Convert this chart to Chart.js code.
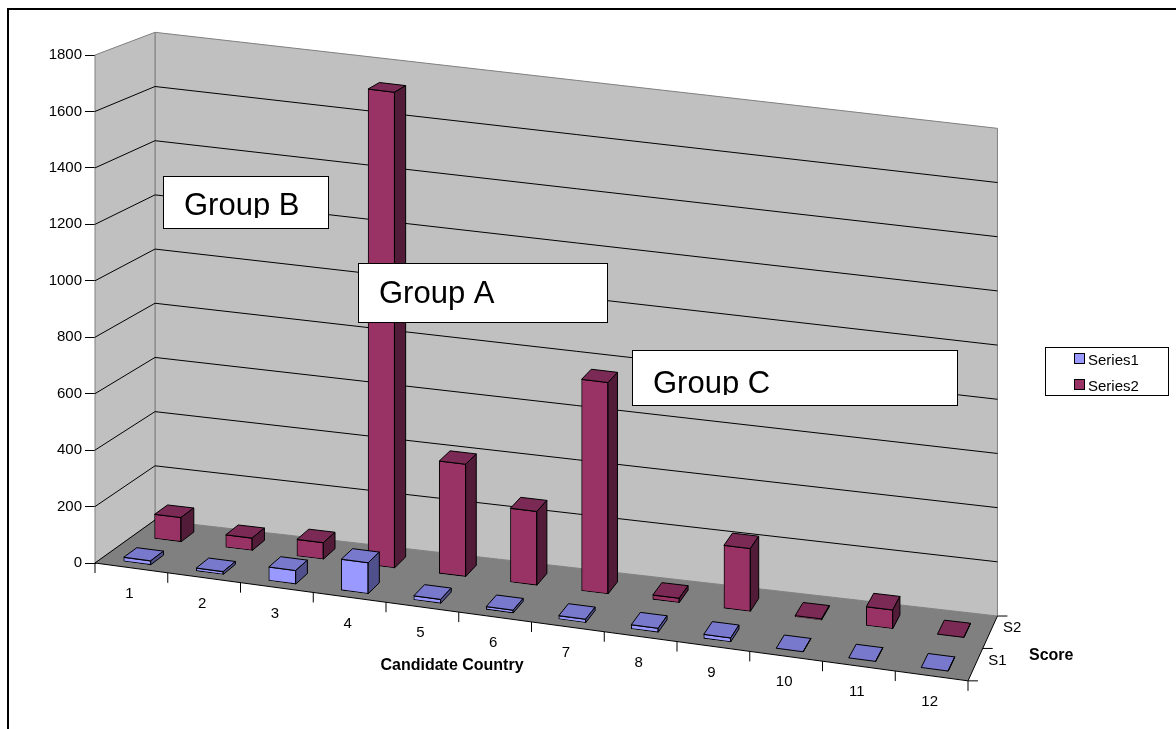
<!DOCTYPE html>
<html>
<head>
<meta charset="utf-8">
<script src="https://cdn.jsdelivr.net/npm/chart.js@4/dist/chart.umd.min.js"></script>
<style>
  html, body { margin: 0; padding: 0; background: #fff; }
  canvas { display: block; }
</style>
</head>
<body>
<canvas id="chart" width="1176" height="729"></canvas>
<script>
// data
const categories = ['1', '2', '3', '4', '5', '6', '7', '8', '9', '10', '11', '12'];
const series1 = [16, 12, 50, 112, 16, 12, 14, 16, 16, 1, 1, 1];
const series2 = [90, 47, 62, 1730, 410, 270, 770, 18, 230, 6, 70, 2];
const seriesNames = ['Series1', 'Series2'];
const depthLabels = ['S1', 'S2'];
const yMax = 1800;
const yStep = 200;
const xTitle = 'Candidate Country';
const depthTitle = 'Score';
const notes = ['Group B', 'Group A', 'Group C'];

const FONT = '"Liberation Sans", Arial, sans-serif';

// fake 3d: each depth level d (0 = front, 1 = back wall) gets its own affine map
const DX = 60, DY = -43, K0 = 0.135, K1 = 0.11, SHRINK_Y = 0.04, SHRINK_X = 0.035;
const rows = [{ d0: 0.1, t: 0.22 }, { d0: 0.62, t: 0.22 }];
const faceColors = [
  { front: '#9999ff', top: '#7878cc', side: '#50508c' },
  { front: '#993366', top: '#7a2a54', side: '#521b38' }
];

function rowMatrix(area, d) {
  const L = area.left, B = area.bottom;
  const k = K0 + (K1 - K0) * d, s = 1 - SHRINK_Y * d, h = 1 - SHRINK_X * d;
  return [h, k, 0, s, L + d * DX - L * h, B + d * DY - B * s - k * L];
}

function proj(area, x, y, d) {
  const m = rowMatrix(area, d);
  return [m[0] * x + m[2] * y + m[4], m[1] * x + m[3] * y + m[5]];
}

function poly(ctx, pts, fill, stroke) {
  ctx.beginPath();
  ctx.moveTo(pts[0][0], pts[0][1]);
  for (let i = 1; i < pts.length; i++) ctx.lineTo(pts[i][0], pts[i][1]);
  ctx.closePath();
  if (fill) { ctx.fillStyle = fill; ctx.fill(); }
  if (stroke) { ctx.strokeStyle = stroke; ctx.lineWidth = 1; ctx.stroke(); }
}

function line(ctx, pts, color) {
  ctx.beginPath();
  ctx.moveTo(pts[0][0], pts[0][1]);
  for (let i = 1; i < pts.length; i++) ctx.lineTo(pts[i][0], pts[i][1]);
  ctx.strokeStyle = color;
  ctx.lineWidth = 1;
  ctx.stroke();
}

const box3d = {
  id: 'box3d',
  beforeDatasetsDraw(chart) {
    const ctx = chart.ctx, a = chart.chartArea, y = chart.scales.y;
    const L = a.left, R = a.right, T = a.top, B = a.bottom;
    ctx.save();
    // walls and floor
    poly(ctx, [proj(a, L, T, 1), proj(a, R, T, 1), proj(a, R, B, 1), proj(a, L, B, 1)], '#c0c0c0', '#808080');
    poly(ctx, [proj(a, L, T, 0), proj(a, L, T, 1), proj(a, L, B, 1), proj(a, L, B, 0)], '#c0c0c0', '#808080');
    poly(ctx, [proj(a, L, B, 0), proj(a, R, B, 0), proj(a, R, B, 1), proj(a, L, B, 1)], '#808080', null);
    // gridlines on the walls
    y.ticks.forEach(tk => {
      const py = y.getPixelForValue(tk.value);
      if (tk.value === 0) {
        line(ctx, [proj(a, L, py, 0), proj(a, L, py, 1)], '#000');
      } else if (tk.value < yMax) {
        line(ctx, [proj(a, L, py, 0), proj(a, L, py, 1), proj(a, R, py, 1)], '#000');
      }
    });
    // front floor edge with category ticks
    const x = chart.scales.x;
    line(ctx, [proj(a, L, B, 0), proj(a, R, B, 0)], '#000');
    for (let i = 0; i <= categories.length; i++) {
      let bx;
      if (i === 0) bx = L;
      else if (i === categories.length) bx = R;
      else bx = (x.getPixelForValue(i - 1) + x.getPixelForValue(i)) / 2;
      const p = proj(a, bx, B, 0);
      line(ctx, [p, [p[0], p[1] + 10]], '#000');
    }
    // depth axis on the right floor edge
    line(ctx, [proj(a, R, B, 0), proj(a, R, B, 1)], '#000');
    [0, 0.5, 1].forEach(d => {
      const p = proj(a, R, B, d);
      line(ctx, [p, [p[0] + 10, p[1]]], '#000');
    });
    ctx.restore();
  },
  beforeDatasetDraw(chart, args) {
    const ctx = chart.ctx;
    ctx.save();
    const m = rowMatrix(chart.chartArea, rows[args.index].d0);
    ctx.transform(m[0], m[1], m[2], m[3], m[4], m[5]);
  },
  afterDatasetDraw(chart, args) {
    const ctx = chart.ctx, a = chart.chartArea;
    ctx.restore();
    const r = rows[args.index], c = faceColors[args.index];
    const d0 = r.d0, d1 = r.d0 + r.t;
    ctx.save();
    ctx.lineJoin = 'round';
    args.meta.data.forEach(el => {
      const p = el.getProps(['x', 'y', 'base', 'width'], true);
      const x1 = p.x - p.width / 2, x2 = p.x + p.width / 2;
      poly(ctx, [proj(a, x1, p.y, d0), proj(a, x2, p.y, d0), proj(a, x2, p.y, d1), proj(a, x1, p.y, d1)], c.top, '#000');
      poly(ctx, [proj(a, x2, p.y, d0), proj(a, x2, p.base, d0), proj(a, x2, p.base, d1), proj(a, x2, p.y, d1)], c.side, '#000');
    });
    ctx.restore();
  },
  afterDraw(chart) {
    const ctx = chart.ctx, a = chart.chartArea, x = chart.scales.x;
    ctx.save();
    ctx.fillStyle = '#000';
    // category labels along the slanted floor
    ctx.font = '15px ' + FONT;
    ctx.textAlign = 'center';
    ctx.textBaseline = 'middle';
    categories.forEach((lab, i) => {
      const p = proj(a, x.getPixelForValue(i), a.bottom, 0);
      ctx.fillText(lab, p[0] - 2, p[1] + 26);
    });
    // depth labels
    ctx.textAlign = 'left';
    depthLabels.forEach((lab, i) => {
      const p = proj(a, a.right, a.bottom, 0.25 + 0.5 * i);
      ctx.fillText(lab, p[0] + 13, p[1] - 4);
    });
    ctx.font = 'bold 16px ' + FONT;
    ctx.textAlign = 'center';
    ctx.fillText(xTitle, 452, 666);
    ctx.textAlign = 'left';
    ctx.fillText(depthTitle, 1029, 656);

    // legend
    ctx.fillStyle = '#fff';
    ctx.fillRect(1045.5, 347.5, 123, 48);
    ctx.strokeStyle = '#000';
    ctx.lineWidth = 1;
    ctx.strokeRect(1045.5, 347.5, 123, 48);
    ctx.font = '15px ' + FONT;
    ctx.textBaseline = 'middle';
    chart.data.datasets.forEach((ds, i) => {
      const yy = 358 + i * 26;
      ctx.fillStyle = ds.backgroundColor;
      ctx.fillRect(1074.5, yy - 4.5, 10, 10);
      ctx.strokeRect(1074.5, yy - 4.5, 10, 10);
      ctx.fillStyle = '#000';
      ctx.fillText(ds.label, 1088, yy + 3);
    });

    // text boxes over the plot
    const boxes = [
      { x: 163, y: 176, w: 165, h: 52, base: 215 },
      { x: 358, y: 263, w: 249, h: 59, base: 303 },
      { x: 632, y: 350, w: 325, h: 55, base: 393 }
    ];
    ctx.font = '31px ' + FONT;
    ctx.textBaseline = 'alphabetic';
    boxes.forEach((b, i) => {
      ctx.fillStyle = '#fff';
      ctx.fillRect(b.x + 0.5, b.y + 0.5, b.w, b.h);
      ctx.strokeStyle = '#000';
      ctx.strokeRect(b.x + 0.5, b.y + 0.5, b.w, b.h);
      ctx.save();
      ctx.beginPath();
      ctx.rect(b.x + 1, b.y + 1, b.w - 2, b.h - 11);
      ctx.clip();
      ctx.fillStyle = '#000';
      ctx.fillText(notes[i], b.x + 21, b.base);
      ctx.restore();
    });

    // page frame
    ctx.fillStyle = '#000';
    ctx.fillRect(7, 8, 2, 721);
    ctx.fillRect(7, 8, 1169, 2);
    ctx.restore();
  }
};

new Chart(document.getElementById('chart').getContext('2d'), {
  type: 'bar',
  data: {
    labels: categories,
    datasets: [
      {
        label: seriesNames[0],
        data: series1,
        backgroundColor: faceColors[0].front,
        borderColor: '#000',
        borderWidth: 1,
        borderSkipped: false,
        barThickness: 27,
        grouped: false,
        clip: false
      },
      {
        label: seriesNames[1],
        data: series2,
        backgroundColor: faceColors[1].front,
        borderColor: '#000',
        borderWidth: 1,
        borderSkipped: false,
        barThickness: 27,
        grouped: false,
        clip: false
      }
    ]
  },
  options: {
    responsive: false,
    animation: false,
    devicePixelRatio: 1,
    layout: { padding: { left: 0, top: 55, right: 208, bottom: 166 } },
    plugins: {
      legend: { display: false },
      tooltip: { enabled: false }
    },
    scales: {
      x: { display: false, offset: true },
      y: {
        min: 0,
        max: yMax,
        z: 1,
        ticks: {
          stepSize: yStep,
          color: '#000',
          font: { family: FONT, size: 15 },
          padding: 3,
          callback: v => String(v)
        },
        grid: { drawOnChartArea: false, color: '#000', tickLength: 10 },
        border: { color: '#000' },
        afterFit(s) { s.width = 95; }
      }
    }
  },
  plugins: [box3d]
});
</script>
</body>
</html>
